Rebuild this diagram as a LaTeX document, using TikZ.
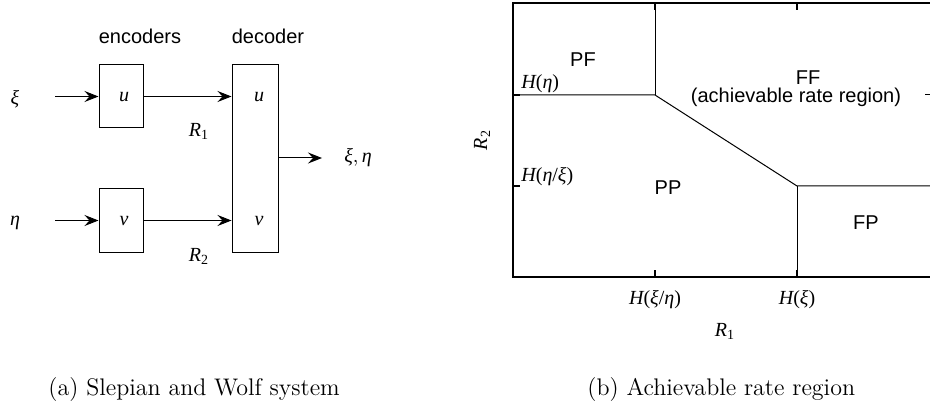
\documentclass[tikz,border=0pt]{standalone}
\usepackage{fontspec}
\setsansfont{Liberation Sans}
\newfontfamily\tms{Liberation Serif}
\usetikzlibrary{arrows.meta}
\newcommand\mi[1]{{\tms\itshape #1}}
\newcommand\msub[2]{{\tms\itshape #1}\textsubscript{\tms #2}}
\begin{document}
\begin{tikzpicture}[x=0.5pt,y=-0.5pt,
  sf/.style={font=\sffamily\fontsize{10}{12}\selectfont, inner sep=0pt},
  mt/.style={font=\fontsize{10}{12}\selectfont, inner sep=0pt},
  blk/.style={draw, line width=0.5pt, minimum width=22pt, inner sep=0pt},
  arr/.style={-{Stealth[length=7pt,width=5.5pt,inset=2.5pt]}, line width=0.5pt},
  thin/.style={line width=0.5pt},
  frame/.style={line width=1pt},
  captxt/.style={font=\fontsize{12}{14}\selectfont, inner sep=0pt}]
\useasboundingbox (0,0) rectangle (930,406);
\clip (0,0) rectangle (930,406);
% ---------- left: Slepian-Wolf system
\node[sf] (enc) at (140,36) {encoders};
\node[sf] (dec) at (268,36) {decoder};
\node[blk, minimum height=31.5pt] (bu) at (121,96.5) {};
\node[blk, minimum height=31.5pt] (bv) at (121,220.5) {};
\node[blk, minimum width=23pt, minimum height=93.5pt] (bd) at (255,158.5) {};
\node[mt] (xi) at (15,99) {\mi{ξ}};
\node[mt] (eta) at (15,223) {\mi{η}};
\coordinate (xis) at (55,96.5);
\coordinate (etas) at (55,220.5);
\draw[arr] (xis) -- (bu.west);
\draw[arr] (etas) -- (bv.west);
\draw[arr] (bu.east) -- (bd.west |- bu.east);
\draw[arr] (bv.east) -- (bd.west |- bv.east);
\node[mt] (u1) at (124,97) {\mi{u}};
\node[mt] (v1) at (124,221) {\mi{v}};
\node[mt] (u2) at (259,97) {\mi{u}};
\node[mt] (v2) at (259,221) {\mi{v}};
\node[mt] (r1) at (199,131) {\msub{R}{1}};
\node[mt] (r2) at (199,256) {\msub{R}{2}};
\coordinate (oute) at (322,158);
\draw[arr] (bd.east |- oute) -- (oute);
\node[mt] (out) at (358,158) {\mi{ξ},\,\mi{η}};
% ---------- right: rate region
\coordinate (tl) at (513,3);
\coordinate (bl) at (513,277);
\coordinate (tr) at (931,3);
\coordinate (br) at (931,277);
\coordinate (pa) at (655,95);
\coordinate (pb) at (797,186);
\draw[frame] (tr) -- (tl) -- (bl) -- (br);
\draw[thin] (pa |- tl) -- (pa);
\draw[thin] (tl |- pa) -- (pa) -- (pb) -- (pb -| br);
\draw[thin] (pb) -- (pb |- bl);
% ticks
\draw[frame] (655,3) -- (655,10);
\draw[frame] (797,3) -- (797,10);
\draw[frame] (655,277) -- (655,270);
\draw[frame] (797,277) -- (797,270);
\draw[frame] (513,95) -- (520,95);
\draw[frame] (513,186) -- (520,186);
\draw[thin] (925,95) -- (931,95);
\node[sf] (pf) at (583,60) {PF};
\node[sf] (ff) at (808,78) {FF};
\node[sf] (ffr) at (796,97) {(achievable rate region)};
\node[sf] (pp) at (668,188) {PP};
\node[sf] (fp) at (866,223) {FP};
\node[mt, anchor=west] (heta) at (521,84) {\mi{H}{\tms(}\mi{η}{\tms)}};
\node[mt, anchor=west] (hex) at (521,177) {\mi{H}{\tms(}\mi{η}{\tms/}\mi{ξ}{\tms)}};
\node[mt] (hxe) at (655,300) {\mi{H}{\tms(}\mi{ξ}{\tms/}\mi{η}{\tms)}};
\node[mt] (hx) at (797,300) {\mi{H}{\tms(}\mi{ξ}{\tms)}};
\node[mt] (rr1) at (725,331) {\msub{R}{1}};
\node[mt, rotate=90] (rr2) at (482,140) {\msub{R}{2}};
% ---------- captions
\node[captxt, anchor=base west] (ca) at (48,395) {(a) Slepian and Wolf system};
\node[captxt, anchor=base west] (cb) at (587,395) {(b) Achievable rate region};
\end{tikzpicture}
\end{document}
